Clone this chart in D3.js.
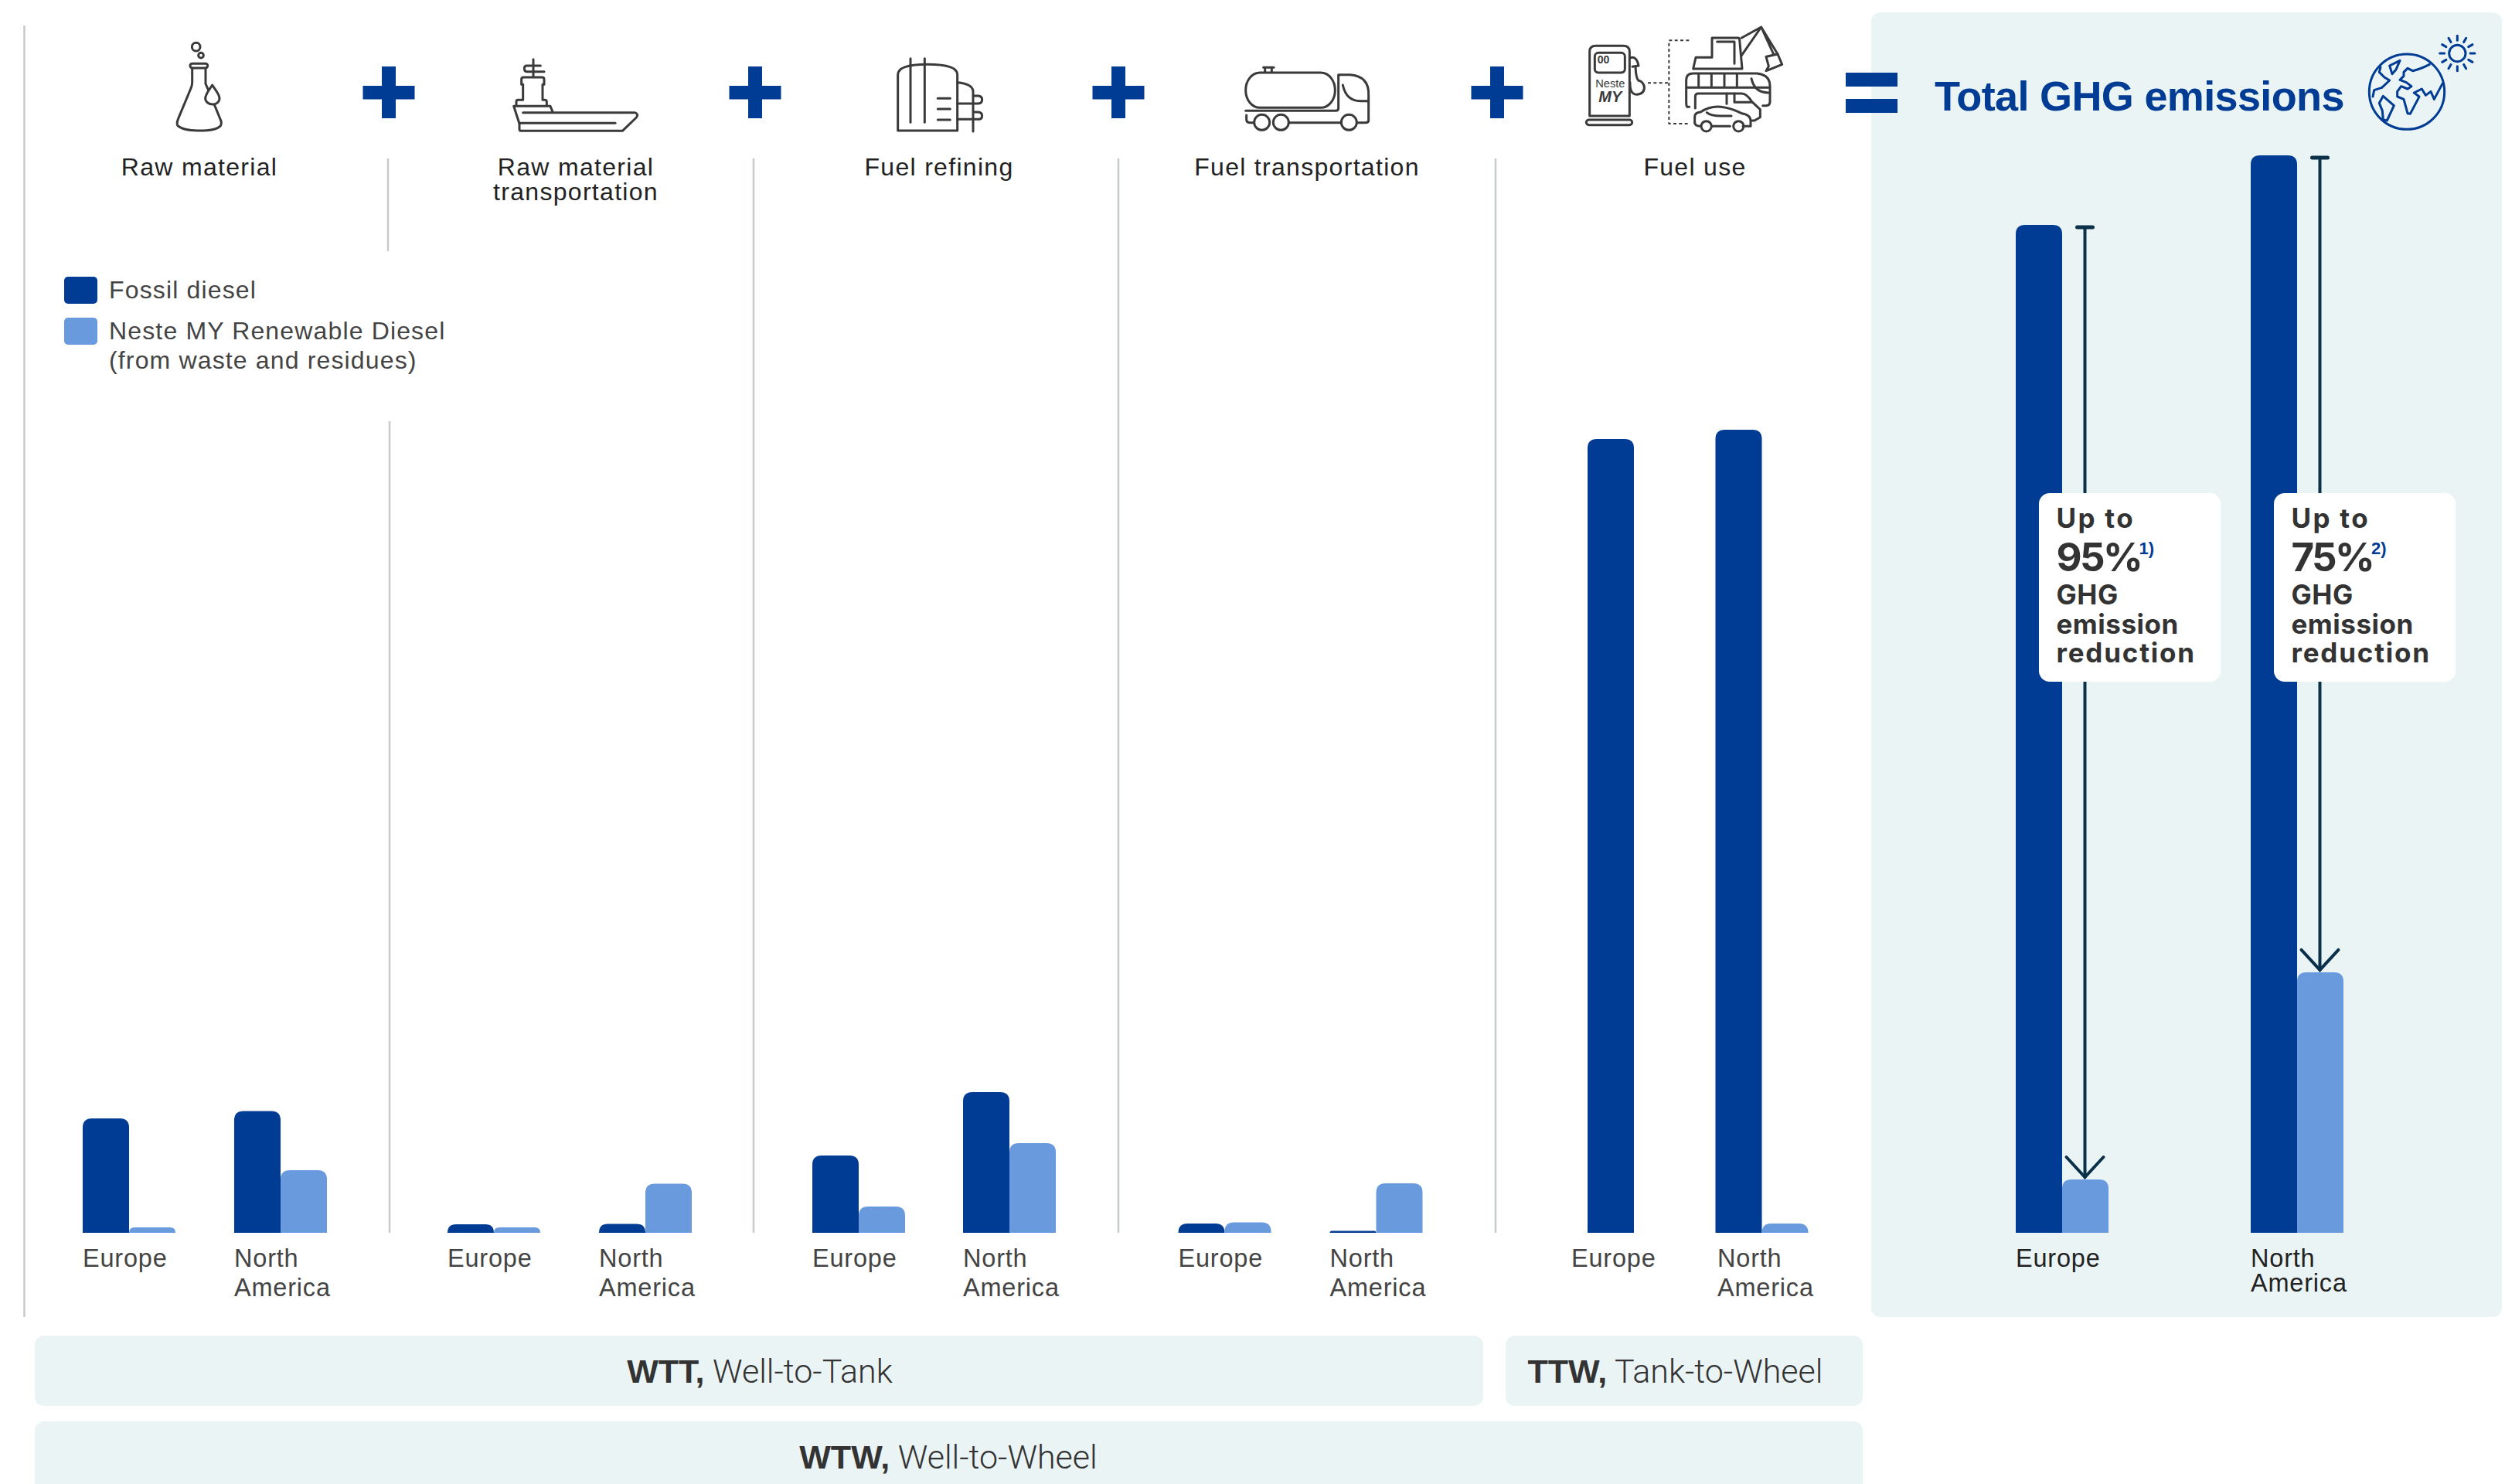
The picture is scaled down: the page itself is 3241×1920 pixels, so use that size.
<!DOCTYPE html>
<html>
<head>
<meta charset="utf-8">
<script src="https://cdn.jsdelivr.net/npm/d3@7"></script>
<style>
  body { margin: 0; background: #fff; }
  text { font-family: "Liberation Sans", Arial, sans-serif; fill: #333; }
  .icon path, .icon circle, .icon rect { fill: none; stroke: #3a3a3a; stroke-width: 9; stroke-linecap: round; stroke-linejoin: round; }
  .globe path, .globe circle, .globe line { fill: none; stroke: #003b94; stroke-width: 9; stroke-linecap: round; stroke-linejoin: round; }
</style>
</head>
<body>
<script>
// chart data
const stages = ["Raw material", "Raw material transportation", "Fuel refining", "Fuel transportation", "Fuel use", "Total GHG emissions"];
const regions = ["Europe", "North America"];
const fuels = ["Fossil diesel", "Neste MY Renewable Diesel"];
const fossilEurope = [10.62, 0.79, 7.17, 0.86, 73.67, 93.54];
const fossilAmerica = [11.30, 0.82, 13.06, 0.18, 74.53, 100];
const renewableEurope = [0.50, 0.50, 2.44, 0.97, 0, 4.95];
const renewableAmerica = [5.81, 4.56, 8.32, 4.59, 0.86, 24.18];
const reductions = ["95%", "75%"];
const reductionNotes = ["1)", "2)"];

const width = 3241, height = 1920;
const blue = "#003b94", lightBlue = "#6a9ade", paleBg = "#ebf4f5", arrowCol = "#0b3049", divider = "#c6caca";

const svg = d3.select("body").append("svg").attr("width", width).attr("height", height).style("display", "block");

const y = d3.scaleLinear().domain([0, 100]).range([1595, 201]);

// left edge of the Europe group and of the North America group, per stage
const groupStarts = [[107, 303], [579, 775], [1051, 1246], [1524.5, 1720.5], [2054, 2219.5], [2608, 2912]];
const barW = 60, groupW = barW * 2;
// label x where it does not follow the bar
const europeLabelX = { 4: 2033 };
const americaLabelX = { 4: 2222 };

// backgrounds
svg.append("rect").attr("x", 2421).attr("y", 16).attr("width", 816).attr("height", 1688).attr("rx", 12).attr("fill", paleBg);
const bands = [
  { x: 45, y: 1728, w: 1874, h: 91, bold: "WTT,", light: " Well-to-Tank", cx: 983, base: 1789 },
  { x: 1948, y: 1728, w: 462, h: 91, bold: "TTW,", light: " Tank-to-Wheel", cx: 2167.5, base: 1789 },
  { x: 45, y: 1839, w: 2365, h: 120, bold: "WTW,", light: " Well-to-Wheel", cx: 1227, base: 1900 },
];
svg.selectAll(".band").data(bands).enter().append("rect").attr("class", "band")
  .attr("x", (d) => d.x).attr("y", (d) => d.y).attr("width", (d) => d.w).attr("height", (d) => d.h)
  .attr("rx", 12).attr("fill", paleBg);
const bandText = svg.selectAll(".bandText").data(bands).enter().append("text").attr("class", "bandText")
  .attr("x", (d) => d.cx).attr("y", (d) => d.base).attr("text-anchor", "middle").style("font-size", "43px");
bandText.append("tspan").style("font-weight", 700).text((d) => d.bold);
bandText.append("tspan").style("font-family", "Roboto").style("font-weight", 300).text((d) => d.light);

// dividers
const dividers = [
  [31.5, 33, 1704], [502, 205, 325], [504, 545, 1595], [975, 205, 1595], [1447, 205, 1595], [1935, 205, 1595],
];
svg.selectAll(".divider").data(dividers).enter().append("line").attr("class", "divider")
  .attr("x1", (d) => d[0]).attr("x2", (d) => d[0]).attr("y1", (d) => d[1]).attr("y2", (d) => d[2])
  .attr("stroke", divider).attr("stroke-width", 2.5);

// bar with rounded top corners
function topRounded(x, top, w, bottom, r) {
  const rr = Math.min(r, bottom - top);
  const p = d3.path();
  p.moveTo(x, bottom);
  p.lineTo(x, top + rr);
  p.quadraticCurveTo(x, top, x + rr, top);
  p.lineTo(x + w - rr, top);
  p.quadraticCurveTo(x + w, top, x + w, top + rr);
  p.lineTo(x + w, bottom);
  p.closePath();
  return p.toString();
}

stages.forEach((stage, i) => {
  const [x0, x1] = groupStarts[i];
  const x = d3.scaleBand().domain(regions).range([x0, x1 + groupW]).paddingInner(1 - groupW / (x1 - x0)).paddingOuter(0);
  const inner = d3.scaleBand().domain(fuels).range([0, x.bandwidth()]);
  const rows = [
    { region: regions[0], fuel: fuels[0], v: fossilEurope[i], c: blue },
    { region: regions[0], fuel: fuels[1], v: renewableEurope[i], c: lightBlue },
    { region: regions[1], fuel: fuels[0], v: fossilAmerica[i], c: blue },
    { region: regions[1], fuel: fuels[1], v: renewableAmerica[i], c: lightBlue },
  ].filter((d) => d.v > 0);
  svg.append("g").selectAll("path").data(rows).enter().append("path")
    .attr("d", (d) => topRounded(x(d.region) + inner(d.fuel), y(d.v), inner.bandwidth(), y(0), 12))
    .attr("fill", (d) => d.c);

  // region labels
  const isTotal = i === stages.length - 1;
  const labels = svg.append("g").style("font-size", "32.5px").style("letter-spacing", "0.8px").style("fill", isTotal ? "#222" : "#444");
  labels.append("text").attr("x", europeLabelX[i] || x(regions[0])).attr("y", 1639).style("fill", "inherit").text("Europe");
  const am = labels.append("text").attr("y", 1639).style("fill", "inherit");
  am.append("tspan").attr("x", americaLabelX[i] || x(regions[1])).text("North");
  am.append("tspan").attr("x", americaLabelX[i] || x(regions[1])).attr("dy", isTotal ? 32 : 38).text("America");
});

// stage headers
const headers = [
  { cx: 258, lines: ["Raw material"] },
  { cx: 745, lines: ["Raw material", "transportation"] },
  { cx: 1215, lines: ["Fuel refining"] },
  { cx: 1691, lines: ["Fuel transportation"] },
  { cx: 2193, lines: ["Fuel use"] },
];
headers.forEach((h) => {
  const t = svg.append("text").attr("text-anchor", "middle").attr("y", 227).style("font-size", "32px").style("letter-spacing", "1.3px").style("fill", "#222");
  h.lines.forEach((l, k) => t.append("tspan").attr("x", h.cx).attr("dy", k ? 32 : 0).text(l));
});

// plus and equals signs
[503, 977, 1447, 1937].forEach((cx) => {
  svg.append("rect").attr("x", cx - 9).attr("y", 86).attr("width", 18).attr("height", 67).attr("fill", blue);
  svg.append("rect").attr("x", cx - 33.5).attr("y", 111).attr("width", 67).attr("height", 17.5).attr("fill", blue);
});
[94, 128].forEach((top) => {
  svg.append("rect").attr("x", 2388).attr("y", top).attr("width", 67).attr("height", 18).attr("fill", blue);
});

// legend
const legend = svg.append("g").style("font-size", "32px").style("letter-spacing", "1.15px");
legend.append("rect").attr("x", 83).attr("y", 358).attr("width", 43).attr("height", 35).attr("rx", 5).attr("fill", blue);
legend.append("rect").attr("x", 83).attr("y", 411).attr("width", 43).attr("height", 35).attr("rx", 5).attr("fill", lightBlue);
legend.append("text").attr("x", 141).attr("y", 386).style("fill", "#444").text(fuels[0]);
legend.append("text").attr("x", 141).attr("y", 439).style("fill", "#444").text(fuels[1]);
legend.append("text").attr("x", 141).attr("y", 477).style("fill", "#444").text("(from waste and residues)");

// title
svg.append("text").attr("x", 2503).attr("y", 143).style("font-size", "54px").style("font-weight", 700).style("letter-spacing", "-0.65px").style("fill", blue).text(stages[5]);

// reduction arrows and callouts
const arrowX = [2697.5, 3001.5];
[[fossilEurope[5], renewableEurope[5]], [fossilAmerica[5], renewableAmerica[5]]].forEach((d, k) => {
  const cx = arrowX[k];
  const top = y(d[0]) + 3, tip = y(d[1]) - 3;
  const g = svg.append("g").attr("stroke", arrowCol).attr("fill", "none").attr("stroke-width", 4).attr("stroke-linecap", "round");
  g.append("line").attr("x1", cx - 10).attr("x2", cx + 10).attr("y1", top).attr("y2", top).attr("stroke-width", 5);
  g.append("line").attr("x1", cx).attr("x2", cx).attr("y1", top).attr("y2", tip);
  g.append("path").attr("d", `M${cx - 24},${tip - 26} L${cx},${tip} L${cx + 24},${tip - 26}`);
});
[2638, 2942].forEach((bx, k) => {
  const g = svg.append("g").attr("transform", `translate(${bx},638)`);
  g.append("rect").attr("width", 235).attr("height", 244).attr("rx", 14).attr("fill", "#fff");
  const line = (txt, by, size, gap) => g.append("text").attr("x", 22.5).attr("y", by)
    .style("font-family", "Inter").style("font-weight", 700).style("font-size", size + "px").style("letter-spacing", gap + "px").text(txt);
  line("Up to", 44.5, 35, 2.3);
  line(reductions[k], 101, 51, -2.6);
  line("GHG", 144, 35, 0.5);
  line("emission", 181.5, 35, 0.5);
  line("reduction", 218.5, 35, 1.8);
  g.append("text").attr("x", k ? 126 : 129.5).attr("y", 79).style("font-size", "22px").style("font-weight", 700)
    .style("fill", blue).text(reductionNotes[k]);
});

// line icons, drawn at three times their size
function icon(x, yy, cls) {
  return svg.append("g").attr("class", cls || "icon").attr("transform", `translate(${x},${yy}) scale(${1 / 3})`);
}
function paths(g, list) { list.forEach((d) => g.append("path").attr("d", d)); }
function rings(g, list) { list.forEach((c) => g.append("circle").attr("cx", c[0]).attr("cy", c[1]).attr("r", c[2])); }

const flask = icon(200, 40);
rings(flask, [[161, 62, 16], [180, 95, 10]]);
flask.append("rect").attr("x", 138).attr("y", 127).attr("width", 68).attr("height", 17).attr("rx", 8);
paths(flask, [
  "M146,144 V200 Q146,212 140,225 L92,340 Q84,360 90,368 Q110,387 172,387 Q240,387 256,368 Q262,358 256,345 L232,286",
  "M198,144 V205 L208,228",
  "M224,210 C215,225 197,245 197,262 C197,275 210,285 225,285 C240,285 252,275 252,262 C252,245 235,228 224,210 Z",
]);

const ship = icon(650, 60);
paths(ship, [
  "M120,50 V118",
  "M148,75 H95 Q85,75 85,86 Q85,98 97,98 H162",
  "M80,148 H74 V128 Q74,120 82,120 H154 Q162,120 162,128 V148 H156 V208 H164 Q172,208 172,215 V230",
  "M80,148 V208 H60 Q54,208 54,215 V230",
  "M196,256 L186,232 H44 L66,300 V320 Q66,328 74,328 H466 L520,276 Q530,262 514,257 H80",
  "M66,298 H438",
]);

const refinery = icon(1140, 60);
paths(refinery, [
  "M114,47 V295", "M169,47 V295",
  "M65,327 V110 Q65,70 180,70 Q296,70 296,110 V327 Z",
  "M296,140 Q356,145 357,175 V330",
  "M220,202 H268", "M220,243 H268", "M220,285 H268",
  "M296,222 H375 Q392,222 392,207 Q392,192 375,192 H358",
  "M296,283 H375 Q392,283 392,270 Q392,255 375,255 H358",
]);

const truck = icon(1590, 70);
truck.append("rect").attr("x", 65).attr("y", 72).attr("width", 347).attr("height", 136).attr("rx", 55).attr("ry", 68);
rings(truck, [[128, 265, 30], [202, 265, 30], [466, 265, 30]]);
paths(truck, [
  "M134,52 H174", "M140,52 V70", "M166,52 V70",
  "M65,220 H415 Q425,220 425,210 V80 H470 Q545,85 542,160 V258 Q542,266 530,266 H498",
  "M442,120 Q455,182 510,182 H540",
  "M68,237 V255 Q68,266 80,266 H98",
  "M232,266 H436",
]);

const pump = icon(2040, 25);
paths(pump, [
  "M50,375 V125 Q50,103 75,103 H180 Q205,103 205,125 V375 Z",
  "M207,150 Q232,140 240,180 L216,184",
  "M207,245 Q205,292 235,292 Q265,288 262,260 Q255,240 240,238 Q230,230 228,185",
  "M452,192 L462,148 H525 V72 H625 Q632,72 632,80 L642,192 Z",
  "M545,87 H612 V172",
  "M640,72 L716,30 L780,135 M640,140 L716,30 L764,135",
  "M735,145 L780,135 L797,175 L735,200 L745,182 Z",
  "M437,340 H428 Q425,335 425,320 V235 Q425,210 452,210 H700 Q750,215 750,260 V320 Q750,335 735,335 H722",
  "M473,212 V258", "M523,212 V258", "M573,212 V258", "M622,212 V258",
  "M678,230 Q690,285 745,285", "M428,265 H745",
  "M460,345 V300 Q460,288 472,288 H640 Q660,288 680,320 L712,350 V380 L690,393 H680",
  "M582,288 V328", "M612,288 V322 H678",
  "M458,400 V378 Q458,362 480,360 Q520,335 560,340 Q600,345 640,365 Q675,370 675,395 V415 H645",
  "M595,415 H525", "M480,415 Q458,415 458,400",
  "M505,362 Q520,375 560,375 H600",
]);
pump.append("rect").attr("x", 70).attr("y", 130).attr("width", 117).attr("height", 77).attr("rx", 14);
pump.append("rect").attr("x", 37).attr("y", 390).attr("width", 178).attr("height", 20).attr("rx", 10);
rings(pump, [[503, 415, 20], [628, 415, 20]]);
pump.append("path").attr("d", "M436,82 H358 V405 H436 M276,247 H358").style("stroke-width", 6).style("stroke-dasharray", "12 10").style("stroke-linecap", "butt");
pump.append("text").attr("x", 80).attr("y", 172).style("font-size", "42px").style("font-weight", 700).style("fill", "#3a3a3a").text("00");
pump.append("text").attr("x", 130).attr("y", 265).attr("text-anchor", "middle").style("font-size", "44px").style("fill", "#3a3a3a").text("Neste");
pump.append("text").attr("x", 130).attr("y", 322).attr("text-anchor", "middle").style("font-size", "60px").style("font-weight", 700).style("font-style", "italic").style("fill", "#3a3a3a").text("MY");

const globe = icon(3050, 30, "globe");
rings(globe, [[192, 266, 146], [388, 117, 32]]);
paths(globe, [
  "M125,165 L165,145 L150,180 L135,197 Z",
  "M90,170 L85,190 L105,210 L125,222 L95,250 L65,260 L60,285",
  "M85,310 L100,283 L142,320 L115,378 L100,375 L97,340 Z",
  "M280,160 Q245,178 215,185 L195,175 L180,190 L180,205 L165,220 L190,230 L210,245 L195,255 L170,245 L155,265 L155,285 L180,295 L195,350 L205,352 L235,295 L240,285 L220,270 L250,255 L265,280 L285,265 L298,295 L330,235",
]);
d3.range(12).forEach((k) => {
  const a = (k * Math.PI) / 6;
  globe.append("line")
    .attr("x1", 388 + 50 * Math.cos(a)).attr("y1", 117 + 50 * Math.sin(a))
    .attr("x2", 388 + 68 * Math.cos(a)).attr("y2", 117 + 68 * Math.sin(a));
});
</script>
</body>
</html>
